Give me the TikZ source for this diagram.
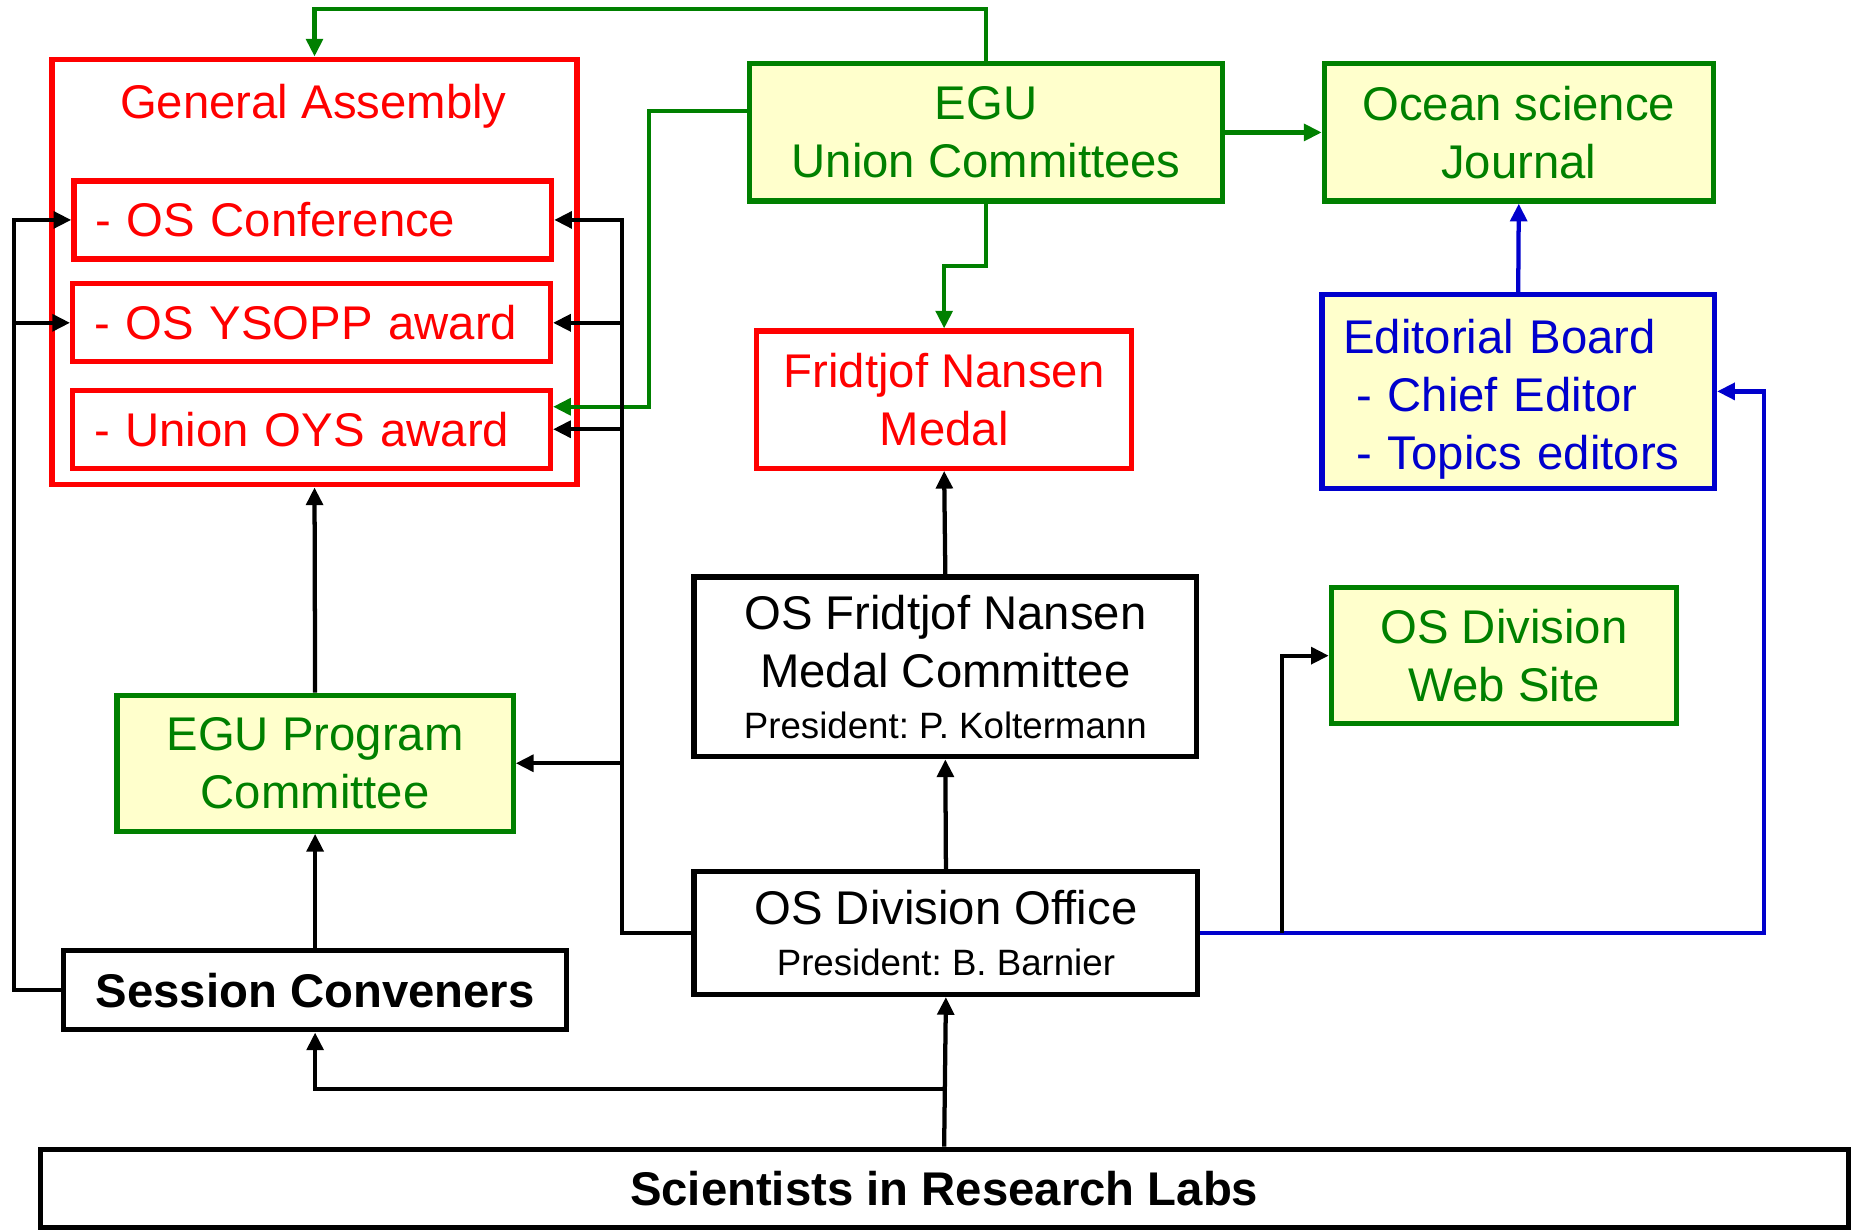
\documentclass[tikz,border=0pt]{standalone}
\usepackage{fontspec}
\setmainfont{Liberation Sans}
\usetikzlibrary{arrows.meta}
\definecolor{osgreen}{RGB}{0,128,0}
\definecolor{osblue}{RGB}{0,0,204}
\definecolor{osyellow}{RGB}{255,255,204}
\newcommand{\presfont}{\fontsize{15.5}{19}\selectfont}
\frenchspacing

\begin{document}
\begin{tikzpicture}[x=0.5pt,y=-0.5pt,font=\fontsize{20}{24.5}\selectfont,
  box/.style={rectangle,draw,line width=2.2pt,align=center,inner sep=0pt},
  redbox/.style={box,draw=red,text=red},
  greenbox/.style={box,draw=osgreen,text=osgreen,fill=osyellow},
  bluebox/.style={box,draw=osblue,text=osblue,fill=osyellow},
  blackbox/.style={box,draw=black},
  itembox/.style={redbox,align=left,text width=184pt,inner xsep=9pt,minimum height=33pt},
  link/.style={line width=1.8pt,-{Triangle[length=7.5pt,width=7pt]}},
  greenlink/.style={link,osgreen},
  bluelink/.style={link,osblue}]
\useasboundingbox (0,0) rectangle (1568,1041);
\node[redbox,minimum width=222pt,minimum height=180pt] (ga) at (266,230) {};
\node[anchor=base,text=red] (gatitle) at (265,100) {General Assembly};
\node[itembox] (conf) at (264.5,186) {- OS Conference};
\node[itembox] (ysopp) at (263.5,273) {- OS YSOPP award};
\node[itembox] (oys) at (263.5,363) {- Union OYS award};
\node[greenbox,minimum width=200pt,minimum height=58pt] (egu) at (834,112) {EGU\\Union Committees};
\node[greenbox,minimum width=164.5pt,minimum height=58pt] (osj) at (1284.5,112) {Ocean science\\Journal};
\node[redbox,minimum width=158.5pt,minimum height=58pt] (fnm) at (798.5,338) {Fridtjof Nansen\\Medal};
\node[bluebox,align=left,text width=148pt,inner xsep=9pt,minimum height=82pt] (eb) at (1284,331)
  {\rule{0pt}{21pt}Editorial Board\\\hspace*{5.5pt}- Chief Editor\\\hspace*{5.5pt}- Topics editors};
\node[blackbox,minimum width=212.5pt,minimum height=76pt] (fnc) at (799.5,564)
  {OS Fridtjof Nansen\\Medal Committee\\[-3pt]{\presfont President: P. Koltermann}};
\node[greenbox,minimum width=146pt,minimum height=57.5pt] (web) at (1272,554.5) {OS Division\\Web Site};
\node[greenbox,minimum width=167.5pt,minimum height=57.5pt] (epc) at (266.5,645.5) {EGU Program\\Committee};
\node[blackbox,minimum width=213pt,minimum height=52pt] (dof) at (800,789)
  {OS Division Office\\[-3pt]{\presfont President: B. Barnier}};
\node[blackbox,minimum width=212.5pt,minimum height=33.5pt,font=\fontsize{20}{24.5}\selectfont\bfseries] (sc) at (266.5,837.5) {Session Conveners};
\node[blackbox,minimum width=764.5pt,minimum height=33pt,font=\fontsize{20}{24.5}\selectfont\bfseries] (srl) at (798.5,1005) {Scientists in Research Labs};
\draw[greenlink] (egu.north) -- ++(0,-44) -| (ga.north);
\draw[greenlink] ([yshift=9pt]egu.west) -| (549,344) -- ([yshift=9.5pt]oys.east);
\draw[greenlink] (egu.east) -- (osj.west);
\draw[greenlink] (egu.south) -- ++(0,53) -| (fnm.north);
\draw[bluelink] (eb.north) -- (osj.south);
\draw[bluelink] (dof.east) -| (1492,331) -- (eb.east);
\coordinate (webfork) at (1084,789);
\draw[link] (webfork) |- (web.west);
\coordinate (rightbus) at (526,186);
\draw[link] (dof.west) -| (rightbus) -- (conf.east);
\draw[link] (rightbus |- ysopp.east) -- (ysopp.east);
\draw[link] (rightbus |- oys.east) -- (oys.east);
\draw[link] (rightbus |- epc.east) -- (epc.east);
\draw[link] (dof.north) -- (fnc.south);
\draw[link] (fnc.north) -- (fnm.south);
\draw[link] (epc.north) -- (ga.south);
\draw[link] (sc.north) -- (epc.south);
\coordinate (leftbus) at (12,186);
\draw[link] (sc.west) -| (leftbus) -- (conf.west);
\draw[link] (leftbus |- ysopp.west) -- (ysopp.west);
\coordinate (fork) at (800,921);
\draw[link] (srl.north) -- (dof.south);
\draw[link] (fork) -| (sc.south);
\end{tikzpicture}
\end{document}
